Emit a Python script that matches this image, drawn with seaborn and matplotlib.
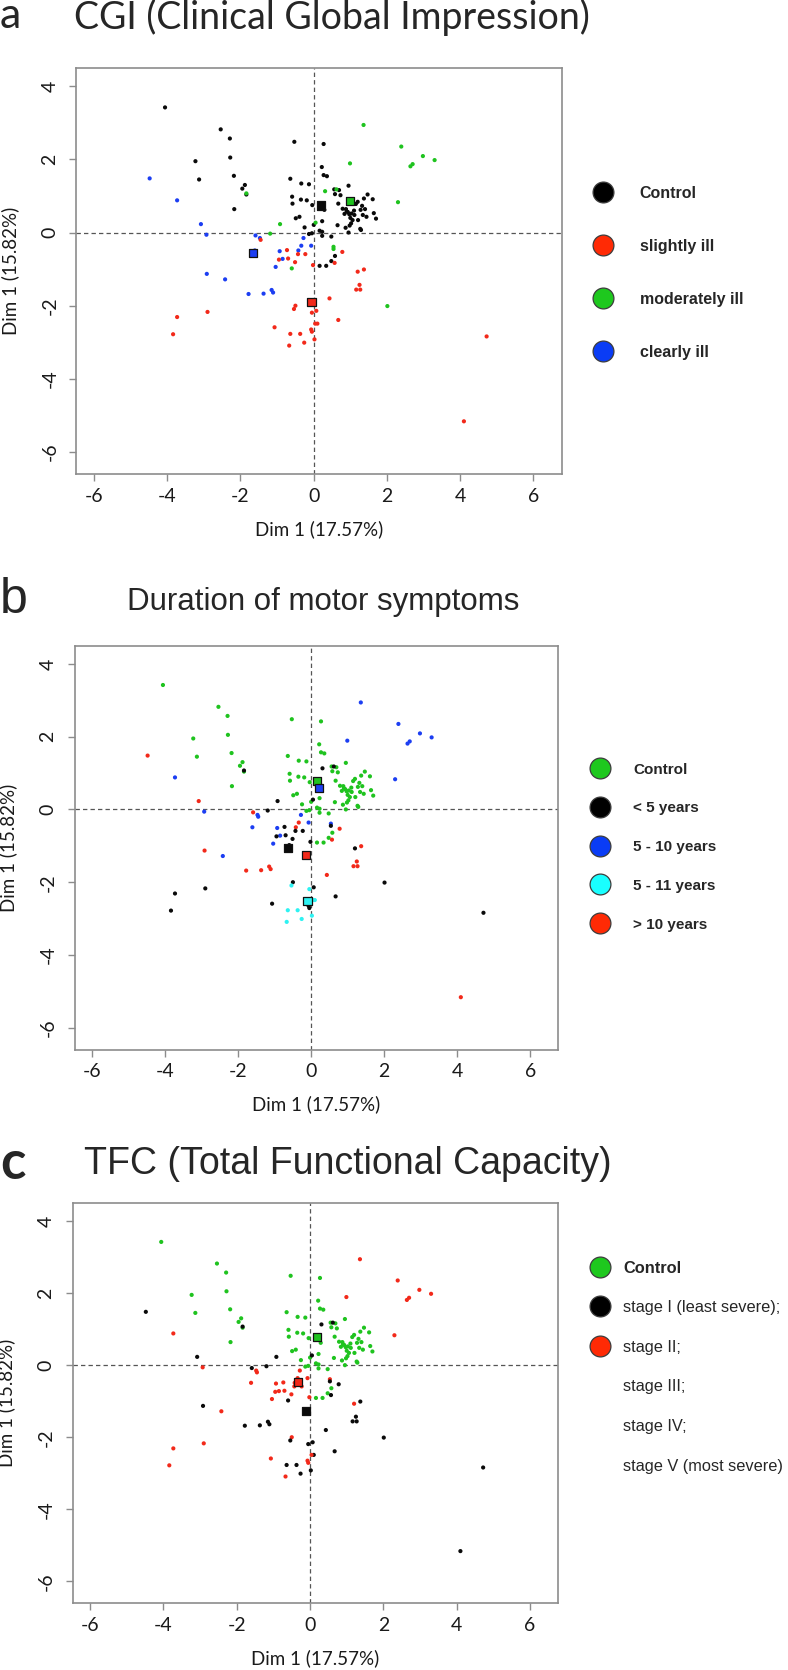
import numpy as np
import pandas as pd
import matplotlib
matplotlib.use('Agg')
import matplotlib.pyplot as plt
from matplotlib.lines import Line2D
import seaborn as sns

# ---- individual coordinates (same 151 subjects in every panel) ----
# first 77 rows are the controls, the rest are patients
dim1 = [
    -4.06, -2.54, -2.29, -2.28, -3.23, -3.13, -2.18, -1.88, -1.95, -1.84, -2.17,
    -0.53, 0.27, 0.22, 0.27, 0.36, -0.64, -0.34, -0.13, -0.59, -0.58, -0.35, -0.19, -0.04, 0.29,
    -0.49, -0.39, -0.25, 0.00, -0.13, -0.05, 0.23, 0.16, 0.23, 0.48, 0.23, 0.58, 0.48, 0.16, 0.34,
    0.56, 0.69, 0.95, 0.58, 0.73, 0.67, 0.79, 0.88, 0.84, 0.93, 0.97, 1.03, 1.11, 1.06, 1.02,
    0.98, 0.87, 0.65, 0.95, 1.32, 1.40, 1.28, 1.47, 1.61, 1.37, 1.64, 1.70, 1.44, 1.21, 1.27,
    1.29, 1.15, 1.20, 1.34, 0.90, 1.00, 1.10,
    -4.48, -3.73, -3.08, -2.93, -1.59, -1.47, -1.45, -1.61, -0.93, -0.85, -1.04, -0.42, -0.28,
    -0.34, -0.07, -2.92, -2.42, -1.78, -1.37, -1.15, -1.11,
    -1.84, -0.92, -1.19, -0.60, 1.36, 2.39, 2.98, 3.30, 2.64, 2.70, 0.99, 2.30, 0.31, 0.62,
    0.05, 0.54, 0.54, 2.01,
    -0.73, -0.70, -0.95, -0.51, -0.43, -0.23, -0.02, 0.78, 0.57, 1.20, 1.37, 1.25, 1.16, 1.27,
    0.43, -0.50, -0.54, 0.07, -0.05, 0.10, 0.04, -0.07, -0.05, 0.67, -0.64, -0.37, -0.26, 0.02,
    -0.67, -1.07, -3.73, -2.90, -3.84, 4.72, 4.10,
]
dim2 = [
    3.42, 2.82, 2.57, 2.05, 1.95, 1.45, 1.55, 1.30, 1.20, 1.04, 0.64,
    2.48, 2.42, 1.79, 1.57, 1.54, 1.47, 1.34, 1.32, 0.98, 0.79, 0.90, 0.88, 0.75, 0.62,
    0.39, 0.43, 0.14, 0.21, -0.04, -0.02, 0.31, 0.05, 0.02, -0.11, -0.09, -0.64, -0.78, -0.91, -0.91,
    1.18, 1.16, 1.28, 1.05, 1.02, 0.79, 0.65, 0.64, 0.51, 0.56, 0.50, 0.52, 0.48, 0.34, 0.25,
    0.19, 0.13, 0.20, 0.00, 0.73, 0.64, 0.62, 1.04, 0.91, 0.93, 0.53, 0.38, 0.43, 0.34, 0.10,
    0.07, 0.78, 0.84, 0.48, 0.58, 0.40, 0.60,
    1.48, 0.88, 0.23, -0.06, -0.08, -0.15, -0.20, -0.49, -0.51, -0.72, -0.94, -0.49, -0.15,
    -0.36, -0.36, -1.13, -1.28, -1.68, -1.67, -1.57, -1.64,
    1.07, 0.23, -0.03, -0.98, 2.94, 2.35, 2.09, 1.98, 1.81, 1.87, 1.89, 0.83, 1.13, 1.18,
    0.27, -0.39, -0.45, -2.01,
    -0.48, -0.71, -0.74, -0.81, -0.59, -0.59, -0.89, -0.53, -0.83, -1.07, -1.01, -1.43, -1.56, -1.56,
    -1.80, -2.00, -2.09, -2.14, -2.19, -2.49, -2.49, -2.65, -2.71, -2.39, -2.77, -2.77, -3.01, -2.92,
    -3.09, -2.59, -2.31, -2.17, -2.78, -2.84, -5.16,
]

# group codes per subject (one character per subject, same order as above)
ctl = "00000000000" + "00000000000000000000000000000" + "0000000000000000000000000000000000000"
cgi_code = ctl + "333333133333333333333" + "222222222222222222" + "11111111111111111111111111111111111"
dur_code = ctl + "424242222224242424444" + "111122222222111211" + "11111114414444413133311133333111114"
tfc_code = ctl + "121212222222222121111" + "111122222222111211" + "22222221121111121111222111112222211"

cgi_names = ['Control', 'slightly ill', 'moderately ill', 'clearly ill']
dur_names = ['Control', '< 5 years', '5 - 10 years', '5 - 11 years', '> 10 years']
tfc_names = ['Control', 'stage I (least severe);', 'stage II;']

# group centroids (filled squares)
cgi_cx = [0.19, -0.06, 1.00, -1.66]
cgi_cy = [0.74, -1.90, 0.87, -0.56]
dur_cx = [0.17, -0.64, 0.21, -0.10, -0.14]
dur_cy = [0.78, -1.05, 0.59, -2.51, -1.25]
tfc_cx = [0.20, -0.11, -0.33]
tfc_cy = [0.77, -1.26, -0.47]

BLACK, RED, GREEN, BLUE, CYAN = '#0a0a0a', '#f2291a', '#1fc31f', '#1c3ef2', '#2ef2f2'
cgi_cols = [BLACK, RED, GREEN, BLUE]
dur_cols = [GREEN, BLACK, BLUE, CYAN, RED]
tfc_cols = [GREEN, BLACK, RED]
LEG = {BLACK: '#000000', RED: '#ff2a05', GREEN: '#1ec81e', BLUE: '#0a3cf5', CYAN: '#19ffff'}

sns.set_style('white')
plt.rcParams['font.family'] = ['Lato', 'DejaVu Sans']
plt.rcParams['axes.unicode_minus'] = False

W, H = 788, 1670
fig = plt.figure(figsize=(W / 100, H / 100), dpi=100)


def add_ax(l, t, r, b):
    return fig.add_axes([l / W, 1 - b / H, (r - l) / W, (b - t) / H])


def draw_panel(ax, codes, names, cols, cx, cy):
    df = pd.DataFrame({'x': dim1, 'y': dim2,
                       'grp': [names[int(c)] for c in codes]})
    ax.axhline(0, color='#555555', lw=0.9, ls=(0, (3.5, 2.5)), zorder=1)
    ax.axvline(0, color='#555555', lw=0.9, ls=(0, (3.5, 2.5)), zorder=1)
    sns.scatterplot(data=df, x='x', y='y', hue='grp', hue_order=names,
                    palette=cols[:len(names)], s=9, linewidth=0, legend=False,
                    ax=ax, zorder=3)
    cdf = pd.DataFrame({'x': cx, 'y': cy, 'grp': names[:len(cx)]})
    sns.scatterplot(data=cdf, x='x', y='y', hue='grp', hue_order=names,
                    palette=cols[:len(names)], marker='s', s=34,
                    edgecolor='#111111', linewidth=0.9, legend=False, ax=ax, zorder=4)
    ax.set_xlim(-6.48, 6.77)
    ax.set_ylim(-6.6, 4.5)
    ax.set_xticks([-6, -4, -2, 0, 2, 4, 6])
    ax.set_yticks([-6, -4, -2, 0, 2, 4])
    for s in ax.spines.values():
        s.set_color('#8c8c8c')
        s.set_linewidth(1.2)
    ax.tick_params(colors='#8c8c8c', labelcolor='#1a1a1a', length=5, width=1,
                   labelsize=14, direction='out', bottom=True, left=True)
    ax.tick_params(axis='x', pad=5)
    ax.tick_params(axis='y', pad=8, labelrotation=90)
    for lb in ax.get_yticklabels():
        lb.set_va('center')
    ax.set_xlabel('Dim 1 (17.57%)', fontsize=13.5, color='#1a1a1a')
    ax.set_ylabel('Dim 1 (15.82%)', fontsize=13.5, color='#1a1a1a')
    bb = ax.get_position()
    wpx, hpx = bb.width * W, bb.height * H
    ax.xaxis.set_label_coords(0.5, -46 / hpx)
    ax.yaxis.set_label_coords(-57 / wpx, 0.5)


def add_legend(names, cols, x, ytop, fs, spacing, textpad, weight, extra=()):
    handles = [Line2D([], [], ls='none', marker='o', markersize=15,
                      markerfacecolor=LEG[c], markeredgecolor='#3c3c3c',
                      markeredgewidth=0.9) for c in cols]
    labels = list(names)
    for e in extra:
        handles.append(Line2D([], [], ls='none'))
        labels.append(e)
    leg = fig.legend(handles, labels, loc='upper left',
                     bbox_to_anchor=(x / W, 1 - ytop / H), frameon=False,
                     borderpad=0, borderaxespad=0, handlelength=1.0,
                     handletextpad=textpad, labelspacing=spacing,
                     prop={'family': ['Liberation Sans', 'DejaVu Sans'],
                           'size': fs, 'weight': weight})
    return leg


# ---- panel a ----
ax_a = add_ax(76.4, 67.9, 561.7, 474)
draw_panel(ax_a, cgi_code, cgi_names, cgi_cols, cgi_cx, cgi_cy)
fig.text(0 / W, 1 - 28 / H, 'a', fontsize=31, family=['Lato', 'DejaVu Sans'], va='baseline')
fig.text(74 / W, 1 - 29 / H, 'CGI (Clinical Global Impression)', fontsize=27,
         family=['Lato', 'DejaVu Sans'], va='baseline')
add_legend(cgi_names, cgi_cols, 595, 185.5, 11.5, 2.38, 1.8, 'bold')

# ---- panel b ----
ax_b = add_ax(74.6, 645.7, 558.3, 1049.6)
draw_panel(ax_b, dur_code, dur_names, dur_cols, dur_cx, dur_cy)
fig.text(0 / W, 1 - 613 / H, 'b', fontsize=36, family=['Liberation Sans', 'DejaVu Sans'],
         va='baseline')
fig.text(127 / W, 1 - 610 / H, 'Duration of motor symptoms', fontsize=22.5,
         family=['Liberation Sans', 'DejaVu Sans'], va='baseline')
add_legend(dur_names, dur_cols, 592.4, 762.5, 11, 1.62, 1.65, 'bold')

# ---- panel c ----
ax_c = add_ax(72.5, 1203, 558.3, 1603)
draw_panel(ax_c, tfc_code, tfc_names, tfc_cols, tfc_cx, tfc_cy)
fig.text(0 / W, 1 - 1179 / H, 'c', fontsize=38, weight='bold',
         family=['Lato', 'DejaVu Sans'], va='baseline')
fig.text(84 / W, 1 - 1174 / H, 'TFC (Total Functional Capacity)', fontsize=27,
         family=['Liberation Sans', 'DejaVu Sans'], va='baseline')
leg_c = add_legend(tfc_names, tfc_cols, 591.8, 1260.6, 11.8, 1.5, 0.9, 'normal',
                   extra=('stage III;', 'stage IV;', 'stage V (most severe)'))
leg_c.get_texts()[0].set_fontweight('bold')

fig.savefig('out.png', dpi=100, facecolor='white')
